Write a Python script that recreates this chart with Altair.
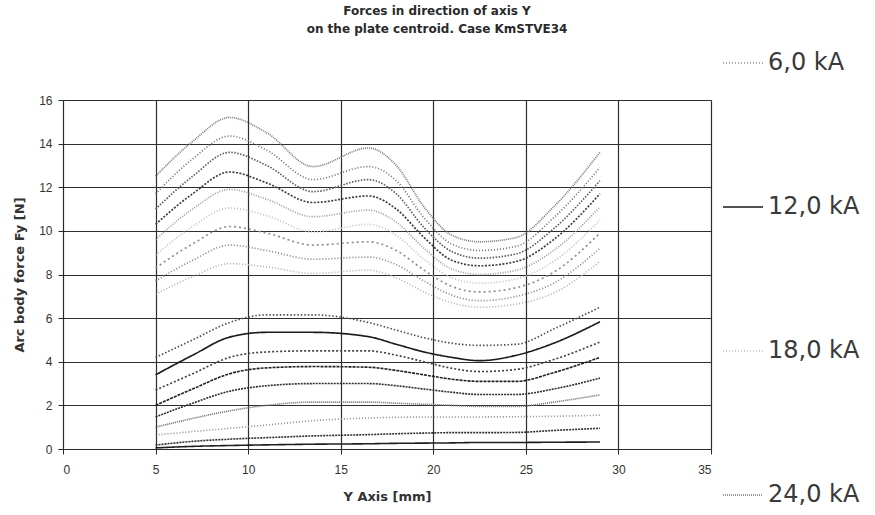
import altair as alt
import pandas as pd

# Positions along the plate (Y axis, mm) where the force was sampled
y_mm = [5, 7, 9, 11, 13.5, 16.5, 18, 19.5, 21, 22.5, 24.5, 26.5, 29]

# Arc current for every curve
currents = ["3,6 kA", "4,8 kA", "6,0 kA", "7,2 kA", "8,4 kA", "9,6 kA",
            "10,8 kA", "12,0 kA", "13,2 kA", "14,4 kA", "15,6 kA", "16,8 kA",
            "18,0 kA", "19,2 kA", "20,4 kA", "21,6 kA", "22,8 kA", "24,0 kA"]

# Arc body force Fy [N] for each current, at the positions above
f_3_6 = [0.05, 0.12, 0.16, 0.19, 0.22, 0.24, 0.26, 0.27, 0.28, 0.30, 0.30, 0.31, 0.32]
f_4_8 = [0.18, 0.35, 0.45, 0.52, 0.60, 0.66, 0.70, 0.73, 0.75, 0.75, 0.76, 0.85, 0.95]
f_6_0 = [0.64, 0.80, 0.95, 1.10, 1.30, 1.42, 1.45, 1.47, 1.47, 1.47, 1.48, 1.50, 1.55]
f_7_2 = [1.00, 1.40, 1.75, 2.00, 2.15, 2.15, 2.10, 2.05, 2.00, 1.95, 1.95, 2.15, 2.48]
f_8_4 = [1.47, 2.10, 2.65, 2.90, 3.00, 3.00, 2.90, 2.75, 2.60, 2.50, 2.50, 2.75, 3.25]
f_9_6 = [2.00, 2.75, 3.45, 3.72, 3.78, 3.75, 3.60, 3.40, 3.20, 3.10, 3.10, 3.50, 4.20]
f_10_8 = [2.70, 3.45, 4.20, 4.45, 4.50, 4.50, 4.30, 4.00, 3.70, 3.55, 3.65, 4.10, 4.90]
f_12_0 = [3.40, 4.30, 5.13, 5.35, 5.35, 5.15, 4.80, 4.45, 4.20, 4.05, 4.30, 4.85, 5.83]
f_13_2 = [4.20, 5.00, 5.80, 6.15, 6.15, 5.80, 5.45, 5.10, 4.85, 4.75, 4.80, 5.50, 6.50]
f_14_4 = [7.10, 7.90, 8.50, 8.35, 8.05, 8.20, 7.85, 7.20, 6.70, 6.50, 6.65, 7.15, 8.60]
f_15_6 = [7.70, 8.65, 9.35, 9.10, 8.70, 8.80, 8.45, 7.70, 7.05, 6.80, 7.00, 7.60, 9.20]
f_16_8 = [8.30, 9.40, 10.20, 9.90, 9.35, 9.50, 9.10, 8.20, 7.45, 7.20, 7.40, 8.10, 9.90]
f_18_0 = [8.90, 10.20, 11.05, 10.70, 9.95, 10.30, 9.80, 8.70, 7.85, 7.60, 7.80, 8.60, 10.50]
f_19_2 = [9.60, 11.00, 11.90, 11.45, 10.65, 10.95, 10.40, 9.20, 8.25, 8.00, 8.20, 9.10, 11.10]
f_20_4 = [10.30, 11.70, 12.70, 12.20, 11.30, 11.60, 11.00, 9.70, 8.65, 8.40, 8.60, 9.60, 11.70]
f_21_6 = [11.00, 12.50, 13.60, 13.00, 11.80, 12.35, 11.70, 10.15, 9.05, 8.75, 8.95, 10.10, 12.30]
f_22_8 = [11.70, 13.30, 14.35, 13.70, 12.35, 12.95, 12.30, 10.60, 9.40, 9.10, 9.30, 10.60, 12.90]
f_24_0 = [12.50, 14.10, 15.20, 14.50, 12.95, 13.80, 13.00, 11.10, 9.80, 9.50, 9.70, 11.10, 13.60]

series = [f_3_6, f_4_8, f_6_0, f_7_2, f_8_4, f_9_6, f_10_8, f_12_0, f_13_2,
          f_14_4, f_15_6, f_16_8, f_18_0, f_19_2, f_20_4, f_21_6, f_22_8, f_24_0]

# Line style of each curve
line_colors = ["#1e1e1e", "#2e2e2e", "#8c8c8c", "#6a6a6a", "#2e2e2e", "#222222",
               "#404040", "#1a1a1a", "#505050", "#b0b0b0", "#808080", "#8e8e8e",
               "#bdbdbd", "#9a9a9a", "#3e3e3e", "#5e5e5e", "#6e6e6e", "#7a7a7a"]
line_dashes = [[1, 0], [2, 1], [1, 2], [1, 1], [2, 1], [3, 1],
               [2, 2], [1, 0], [1.5, 2], [1, 2], [1, 2], [2, 3],
               [1, 2], [1, 1.5], [2, 1.5], [1.5, 1.5], [1, 2], [1, 1]]
line_widths = [1.6, 1.7, 1.5, 3.0, 1.5, 1.6,
               1.4, 3.6, 1.4, 1.3, 1.4, 1.3,
               1.4, 1.5, 1.6, 1.5, 1.5, 3.0]

legend_values = ["6,0 kA", "12,0 kA", "18,0 kA", "24,0 kA"]

rows = []
for name, vals in zip(currents, series):
    for x, v in zip(y_mm, vals):
        rows.append({"y_mm": x, "force": v, "current": name})
df = pd.DataFrame(rows)

font = "Liberation Sans"
wide_font = "DejaVu Sans"

legend = alt.Legend(
    title=None,
    values=legend_values,
    orient="none",
    legendX=659,
    legendY=-58,
    symbolType="stroke",
    symbolSize=1600,
    labelFontSize=24,
    labelFont=wide_font,
    labelColor="#3a3a3a",
    labelOffset=4,
    rowPadding=111,
)

axis_style = dict(
    grid=True,
    gridColor="#2e2e2e",
    gridWidth=1.2,
    domainColor="#2a2a2a",
    tickColor="#2a2a2a",
    tickSize=5,
    labelFont=font,
    labelFontSize=12,
    labelColor="#333333",
    titleFont=wide_font,
    titleFontSize=13,
    titleFontWeight="bold",
    titleColor="#333333",
)

chart = alt.Chart(df).mark_line(interpolate="monotone").encode(
    x=alt.X("y_mm:Q", title="Y Axis [mm]",
            scale=alt.Scale(domain=[0, 35], nice=False),
            axis=alt.Axis(values=[0, 5, 10, 15, 20, 25, 30, 35],
                          labelPadding=10, titlePadding=15, **axis_style)),
    y=alt.Y("force:Q", title="Arc body force Fy [N]",
            scale=alt.Scale(domain=[0, 16], nice=False),
            axis=alt.Axis(values=[0, 2, 4, 6, 8, 10, 12, 14, 16],
                          labelPadding=6, titlePadding=12, **axis_style)),
    color=alt.Color("current:N", sort=currents,
                    scale=alt.Scale(domain=currents, range=line_colors), legend=legend),
    strokeDash=alt.StrokeDash("current:N", sort=currents,
                              scale=alt.Scale(domain=currents, range=line_dashes), legend=legend),
    strokeWidth=alt.StrokeWidth("current:N", sort=currents,
                                scale=alt.Scale(domain=currents, range=line_widths), legend=legend),
    detail="current:N",
).properties(
    width=648,
    height=349,
    title=alt.TitleParams(
        text=["Forces in direction of axis Y", "on the plate centroid. Case KmSTVE34"],
        fontSize=12,
        font=wide_font,
        fontWeight="bold",
        color="#2a2a2a",
        lineHeight=18,
        anchor="middle",
        frame="group",
        dx=50,
        offset=6,
    ),
    autosize=alt.AutoSizeParams(type="none"),
    padding={"left": 63, "top": 100, "right": 164, "bottom": 66},
).configure_view(
    stroke="#2a2a2a", strokeWidth=1.2
).configure(background="white")

chart.save("out.html", embed_options={"renderer": "svg", "actions": False})
